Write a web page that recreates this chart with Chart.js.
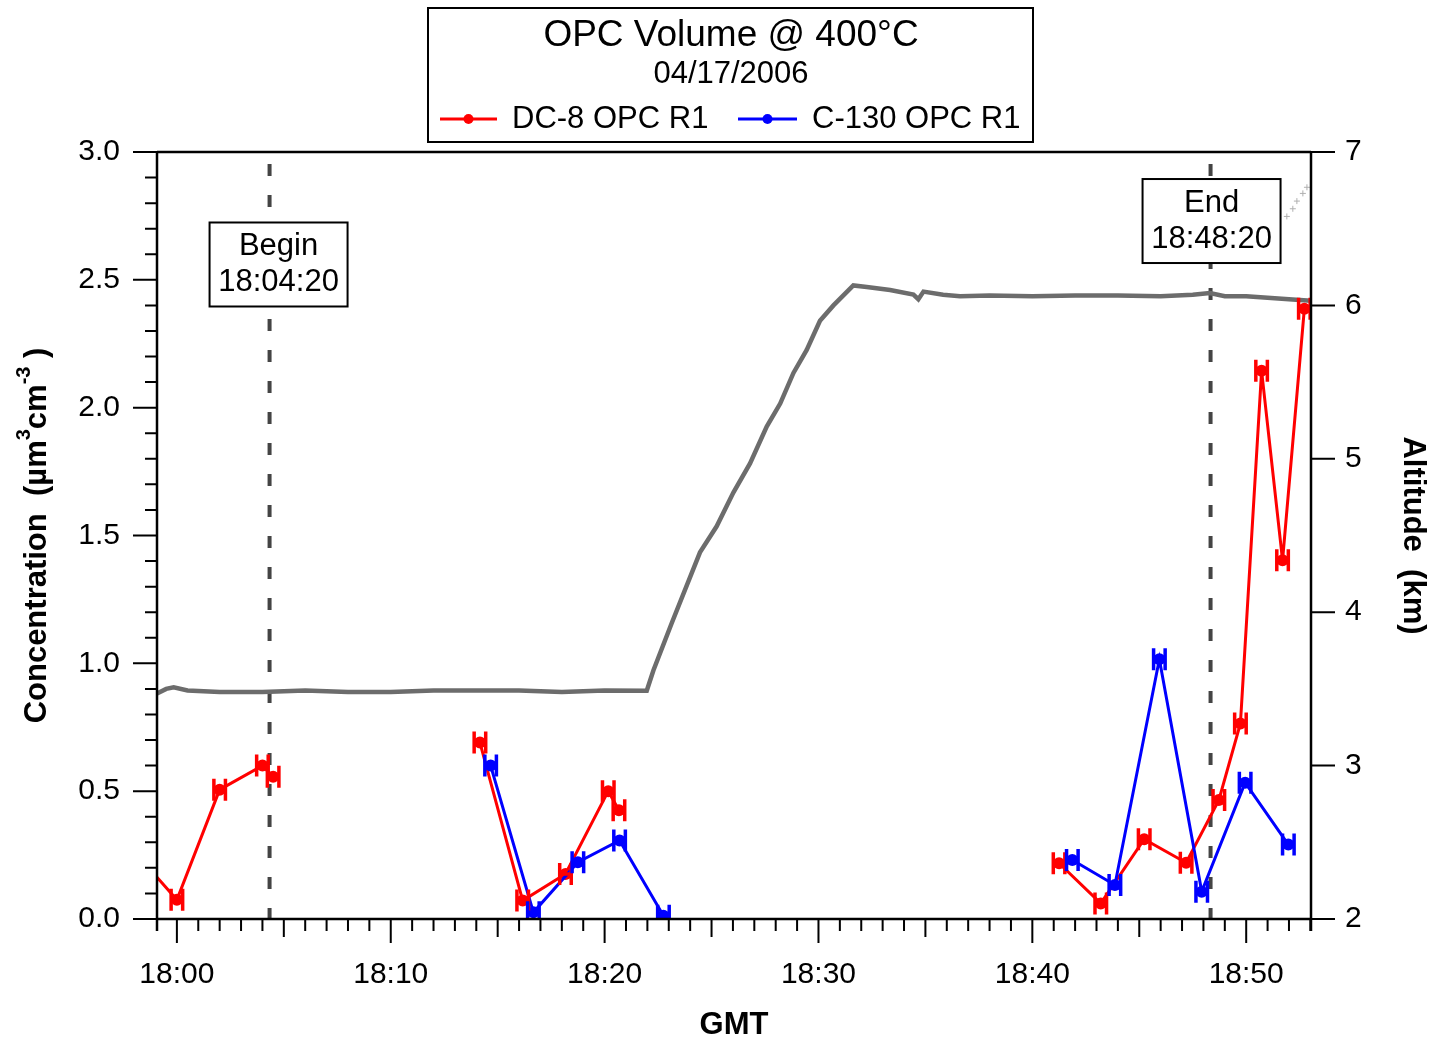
<!DOCTYPE html>
<html>
<head>
<meta charset="utf-8">
<title>OPC Volume @ 400°C</title>
<script src="https://cdn.jsdelivr.net/npm/chart.js@4/dist/chart.umd.min.js"></script>
<style>
  html, body { margin: 0; padding: 0; background: #fff; }
</style>
</head>
<body>
<canvas id="opcChart" width="1435" height="1042"></canvas>
<script>
// Time is in minutes after 18:00 GMT
const dc8Minutes = [-2.0, 0.0, 2.0, 4.0, 4.5, 4.6, 14.17, 16.17, 18.17, 20.17, 20.67, 20.8, 41.25, 43.2, 45.23, 47.19, 48.72, 49.73, 50.72, 51.70, 52.72];
const dc8Volume  = [0.265, 0.075, 0.506, 0.60, 0.556, null, 0.69, 0.072, 0.176, 0.50, 0.425, null, 0.218, 0.061, 0.312, 0.22, 0.465, 0.765, 2.144, 1.403, 2.387];

const c130Minutes = [14.67, 16.67, 18.75, 20.7, 22.75, 22.9, 41.87, 43.86, 45.94, 47.92, 49.95, 51.97];
const c130Volume  = [0.60, 0.026, 0.222, 0.307, 0.013, null, 0.231, 0.133, 1.016, 0.107, 0.533, 0.291];

// half width of the time error bar (minutes)
const timeErr = 0.27;

const altMinutes = [-0.93, -0.5, -0.15, 0.5, 2, 4, 6, 8, 10, 12, 14, 16, 18, 20, 21.97, 22.28, 23.14, 24.46, 25.24, 26.02, 26.8, 27.58, 28.21, 28.83, 29.45, 30.07, 30.7, 31.63, 32.26, 33.35, 34.44, 34.67, 34.91, 35.83, 36.62, 38, 40, 42, 44, 46, 47.5, 48.3, 49, 50, 51, 52, 53.03];
const altKm      = [3.47, 3.50, 3.51, 3.49, 3.48, 3.48, 3.49, 3.48, 3.48, 3.49, 3.49, 3.49, 3.48, 3.49, 3.488, 3.62, 3.93, 4.39, 4.56, 4.78, 4.97, 5.21, 5.36, 5.56, 5.71, 5.90, 6.00, 6.13, 6.12, 6.10, 6.07, 6.04, 6.09, 6.07, 6.06, 6.065, 6.06, 6.065, 6.065, 6.06, 6.07, 6.08, 6.06, 6.06, 6.05, 6.04, 6.03];

// a few stray altitude samples at the top right
const strayMinutes = [51.9, 52.18, 52.37, 52.65, 52.84];
const strayKm      = [6.58, 6.63, 6.68, 6.73, 6.77];

const timeTicks = [0, 10, 20, 30, 40, 50];
const timeLabels = ['18:00', '18:10', '18:20', '18:30', '18:40', '18:50'];

const beginMin = 4 + 20 / 60;   // 18:04:20
const endMin = 48 + 20 / 60;    // 18:48:20

const FONT = "'Liberation Sans', Arial, Helvetica, sans-serif";

function toPoints(xs, ys) {
    return xs.map((x, i) => ({ x: x, y: ys[i] }));
}

function drawRichText(ctx, parts, x, y, angle) {
    ctx.save();
    ctx.translate(x, y);
    ctx.rotate(angle);
    let total = 0;
    parts.forEach(p => { ctx.font = p.font; total += ctx.measureText(p.text).width; });
    let cx = -total / 2;
    ctx.textAlign = 'left';
    ctx.textBaseline = 'middle';
    ctx.fillStyle = '#000';
    parts.forEach(p => {
        ctx.font = p.font;
        ctx.fillText(p.text, cx, -(p.rise || 0));
        cx += ctx.measureText(p.text).width;
    });
    ctx.restore();
}

// dashed begin / end lines with their labels
const markerLines = {
    id: 'markerLines',
    beforeDatasetsDraw(chart) {
        const { ctx, chartArea, scales } = chart;
        const lines = [
            { min: beginMin, text: ['Begin', '18:04:20'], boxY: 2.56, dx: 9 },
            { min: endMin, text: ['End', '18:48:20'], boxY: 2.73, dx: 1 }
        ];
        ctx.save();
        lines.forEach(l => {
            const px = scales.x.getPixelForValue(l.min);
            ctx.strokeStyle = '#444';
            ctx.lineWidth = 4;
            ctx.setLineDash([12, 19]);
            ctx.lineDashOffset = -12;
            ctx.beginPath();
            ctx.moveTo(px, chartArea.top);
            ctx.lineTo(px, chartArea.bottom);
            ctx.stroke();
            ctx.setLineDash([]);

            const cy = scales.y.getPixelForValue(l.boxY);
            const w = 138, h = 84;
            const bx = px + l.dx - w / 2, by = cy - h / 2;
            ctx.fillStyle = '#fff';
            ctx.fillRect(bx, by, w, h);
            ctx.strokeStyle = '#000';
            ctx.lineWidth = 2;
            ctx.strokeRect(bx, by, w, h);
            ctx.fillStyle = '#000';
            ctx.font = '31px ' + FONT;
            ctx.textAlign = 'center';
            ctx.textBaseline = 'middle';
            ctx.fillText(l.text[0], px + l.dx, cy - 18);
            ctx.fillText(l.text[1], px + l.dx, cy + 18);
        });
        ctx.restore();
    }
};

// horizontal time error bars, frame, ticks, titles and the boxed legend
const decorations = {
    id: 'decorations',
    afterDatasetsDraw(chart) {
        const { ctx, chartArea, scales } = chart;
        const xs = scales.x, ys = scales.y, y2 = scales.y2;

        // error bars
        ctx.save();
        ctx.beginPath();
        ctx.rect(chartArea.left, chartArea.top, chartArea.right - chartArea.left, chartArea.bottom - chartArea.top);
        ctx.clip();
        ctx.lineWidth = 3.5;
        [[dc8Minutes, dc8Volume, 'red'], [c130Minutes, c130Volume, 'blue']].forEach(([mins, vals, col]) => {
            ctx.strokeStyle = col;
            mins.forEach((m, i) => {
                if (vals[i] === null) return;
                const x0 = xs.getPixelForValue(m - timeErr);
                const x1 = xs.getPixelForValue(m + timeErr);
                const py = ys.getPixelForValue(vals[i]);
                ctx.beginPath();
                ctx.moveTo(x0, py); ctx.lineTo(x1, py);
                ctx.moveTo(x0, py - 11); ctx.lineTo(x0, py + 11);
                ctx.moveTo(x1, py - 11); ctx.lineTo(x1, py + 11);
                ctx.stroke();
            });
        });
        ctx.restore();

        ctx.save();
        ctx.strokeStyle = '#000';
        ctx.lineWidth = 2.5;
        const L = chartArea.left, R = chartArea.right, T = chartArea.top, B = chartArea.bottom;
        ctx.beginPath();
        ctx.moveTo(L, T); ctx.lineTo(R, T);
        ctx.moveTo(L, T); ctx.lineTo(L, B + 12);
        ctx.moveTo(R, T); ctx.lineTo(R, B + 12);
        ctx.moveTo(L, B); ctx.lineTo(R, B);
        ctx.stroke();

        // x ticks every minute
        ctx.lineWidth = 2;
        ctx.beginPath();
        for (let m = Math.ceil(xs.min); m <= Math.floor(xs.max); m++) {
            const len = m % 10 === 0 ? 24 : (m % 5 === 0 ? 18 : 12);
            const px = xs.getPixelForValue(m);
            ctx.moveTo(px, B); ctx.lineTo(px, B + len);
        }
        // left ticks every 0.1
        for (let i = 0; i <= 30; i++) {
            const len = i % 5 === 0 ? 24 : 12;
            const py = ys.getPixelForValue(i / 10);
            ctx.moveTo(L, py); ctx.lineTo(L - len, py);
        }
        // right ticks every km
        for (let k = 2; k <= 7; k++) {
            const py = y2.getPixelForValue(k);
            ctx.moveTo(R, py); ctx.lineTo(R + 24, py);
        }
        ctx.stroke();
        ctx.restore();

        // axis titles
        const bold = 'bold 31px ' + FONT;
        const sup = 'bold 20px ' + FONT;
        drawRichText(ctx, [
            { text: 'Concentration  (µm', font: bold },
            { text: '3', font: sup, rise: 13 },
            { text: 'cm', font: bold },
            { text: '-3', font: sup, rise: 13 },
            { text: ' )', font: bold }
        ], 37, (T + B) / 2, -Math.PI / 2);
        drawRichText(ctx, [{ text: 'Altitude  (km)', font: bold }], 1413, (T + B) / 2, Math.PI / 2);
        drawRichText(ctx, [{ text: 'GMT', font: bold }], (L + R) / 2, 1025, 0);

        // title box with legend
        ctx.save();
        ctx.fillStyle = '#fff';
        ctx.fillRect(428, 8, 605, 134);
        ctx.strokeStyle = '#000';
        ctx.lineWidth = 2;
        ctx.strokeRect(428, 8, 605, 134);
        ctx.fillStyle = '#000';
        ctx.textAlign = 'center';
        ctx.textBaseline = 'middle';
        ctx.font = '37px ' + FONT;
        ctx.fillText('OPC Volume @ 400°C', 731, 36);
        ctx.font = '31px ' + FONT;
        ctx.fillText('04/17/2006', 731, 74);

        const entries = [
            { ds: chart.data.datasets.find(d => d.label === 'DC-8 OPC R1'), x0: 440, x1: 497, tx: 512 },
            { ds: chart.data.datasets.find(d => d.label === 'C-130 OPC R1'), x0: 738, x1: 797, tx: 812 }
        ];
        entries.forEach(e => {
            const yy = 119;
            ctx.strokeStyle = e.ds.borderColor;
            ctx.lineWidth = 3;
            ctx.beginPath();
            ctx.moveTo(e.x0, yy); ctx.lineTo(e.x1, yy);
            ctx.stroke();
            ctx.fillStyle = e.ds.borderColor;
            ctx.beginPath();
            ctx.arc((e.x0 + e.x1) / 2, yy, 5, 0, Math.PI * 2);
            ctx.fill();
            ctx.fillStyle = '#000';
            ctx.textAlign = 'left';
            ctx.font = '31px ' + FONT;
            ctx.fillText(e.ds.label, e.tx, yy);
        });
        ctx.restore();
    }
};

const ctx = document.getElementById('opcChart').getContext('2d');

new Chart(ctx, {
    type: 'line',
    data: {
        datasets: [{
            label: 'C-130 OPC R1',
            data: toPoints(c130Minutes, c130Volume),
            yAxisID: 'y',
            borderColor: 'blue',
            backgroundColor: 'blue',
            borderWidth: 3,
            pointRadius: 6,
            pointBorderWidth: 0,
            pointBackgroundColor: 'blue',
            spanGaps: false,
            order: 1
        }, {
            label: 'DC-8 OPC R1',
            data: toPoints(dc8Minutes, dc8Volume),
            yAxisID: 'y',
            borderColor: 'red',
            backgroundColor: 'red',
            borderWidth: 3,
            pointRadius: 6,
            pointBorderWidth: 0,
            pointBackgroundColor: 'red',
            spanGaps: false,
            order: 2
        }, {
            label: 'Altitude',
            data: toPoints(altMinutes, altKm),
            yAxisID: 'y2',
            borderColor: '#6c6c6c',
            borderWidth: 4.5,
            pointRadius: 0,
            order: 3
        }, {
            label: 'Altitude (stray)',
            data: toPoints(strayMinutes, strayKm),
            yAxisID: 'y2',
            showLine: false,
            borderColor: '#b0b0b0',
            borderWidth: 1,
            pointStyle: 'cross',
            pointRadius: 3,
            order: 4
        }]
    },
    options: {
        responsive: false,
        animation: false,
        events: [],
        layout: { padding: { top: 152, left: 0, right: 0, bottom: 0 } },
        plugins: {
            legend: { display: false },
            title: { display: false },
            tooltip: { enabled: false }
        },
        elements: { line: { tension: 0 } },
        scales: {
            x: {
                type: 'linear',
                position: 'bottom',
                min: -0.93,
                max: 53.03,
                grid: { display: false, drawTicks: false },
                border: { display: false },
                afterBuildTicks: s => { s.ticks = timeTicks.map(v => ({ value: v })); },
                ticks: {
                    padding: 38,
                    color: '#000',
                    font: { family: FONT, size: 30 },
                    maxRotation: 0,
                    autoSkip: false,
                    callback: v => timeLabels[timeTicks.indexOf(v)]
                },
                afterFit: s => { s.height = 123; }
            },
            y: {
                position: 'left',
                min: 0,
                max: 3,
                grid: { display: false, drawTicks: false },
                border: { display: false },
                ticks: {
                    stepSize: 0.5,
                    padding: 37,
                    color: '#000',
                    font: { family: FONT, size: 30 },
                    callback: v => v.toFixed(1)
                },
                afterFit: s => { s.width = 157; }
            },
            y2: {
                position: 'right',
                min: 2,
                max: 7,
                grid: { display: false, drawTicks: false },
                border: { display: false },
                ticks: {
                    stepSize: 1,
                    padding: 34,
                    color: '#000',
                    font: { family: FONT, size: 30 }
                },
                afterFit: s => { s.width = 124; }
            }
        }
    },
    plugins: [markerLines, decorations]
});
</script>
</body>
</html>
